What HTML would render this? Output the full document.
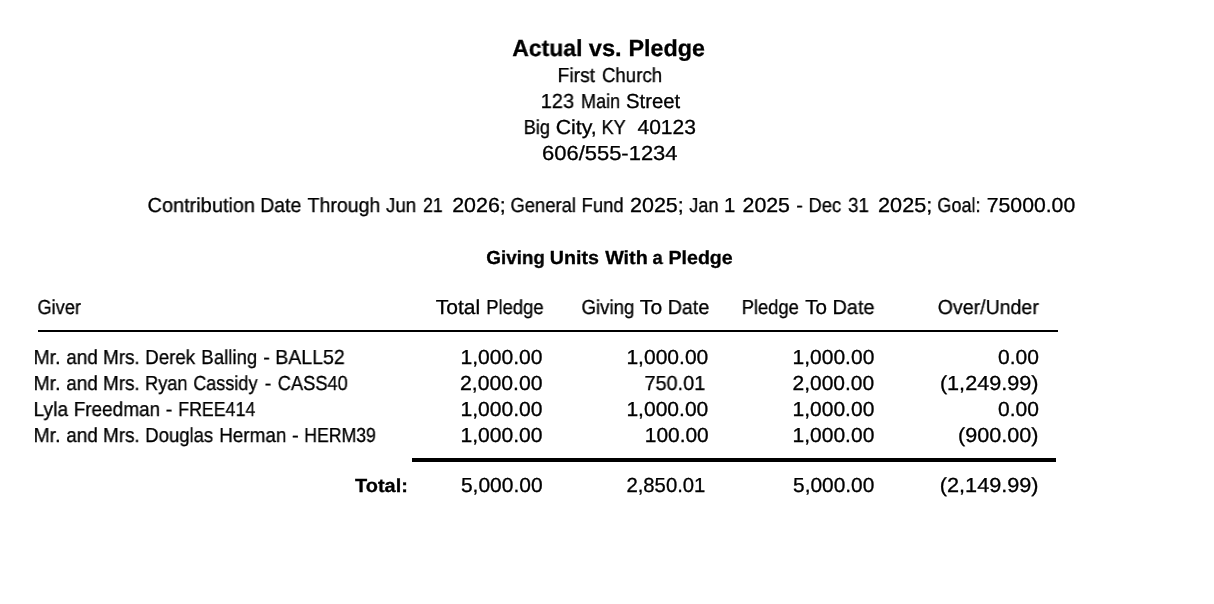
<!DOCTYPE html><html><head><meta charset="utf-8"><title>Actual vs. Pledge</title><style>
html,body{margin:0;padding:0;background:#fff;}
body{width:1214px;height:604px;position:relative;overflow:hidden;font-family:"Liberation Sans",sans-serif;color:#000;}
div{position:absolute;white-space:pre;line-height:1;transform-origin:0 0;text-rendering:geometricPrecision;will-change:transform;-webkit-text-stroke:0.30px #000;}
.rule{background:#000;will-change:auto;-webkit-text-stroke:0;}
</style></head><body>
<div style="left:512px;top:37px;font-weight:bold;font-size:23.3px;text-indent:0.274px;transform:scaleX(0.9860)">Actual</div>
<div style="left:588px;top:37px;font-weight:bold;font-size:23.3px;text-indent:0.725px;transform:scaleX(1.0149)">vs.</div>
<div style="left:628px;top:37px;font-weight:bold;font-size:23.3px;text-indent:0.593px;transform:scaleX(0.9997)">Pledge</div>
<div style="left:557px;top:66px;font-size:20.3px;text-indent:0.510px;transform:scaleX(0.9534)">First</div>
<div style="left:601px;top:66px;font-size:20.3px;text-indent:0.933px;transform:scaleX(0.9214)">Church</div>
<div style="left:540px;top:92px;font-size:20.3px;text-indent:0.852px;transform:scaleX(0.9814)">123</div>
<div style="left:581px;top:92px;font-size:20.3px;text-indent:0.038px;transform:scaleX(0.8882)">Main</div>
<div style="left:625px;top:92px;font-size:20.3px;text-indent:0.982px;transform:scaleX(1.0018)">Street</div>
<div style="left:523px;top:118px;font-size:20.3px;text-indent:0.745px;transform:scaleX(0.8991)">Big</div>
<div style="left:555px;top:118px;font-size:20.3px;text-indent:0.609px;transform:scaleX(1.0532)">City,</div>
<div style="left:601px;top:118px;font-size:20.3px;text-indent:0.537px;transform:scaleX(0.8977)">KY</div>
<div style="left:637px;top:118px;font-size:20.3px;text-indent:0.455px;transform:scaleX(1.0362)">40123</div>
<div style="left:542px;top:144px;font-size:20.3px;text-indent:0.038px;transform:scaleX(1.0821)">606/555-1234</div>
<div style="left:147px;top:196px;font-size:20.3px;text-indent:0.520px;transform:scaleX(0.9837)">Contribution</div>
<div style="left:260px;top:196px;font-size:20.3px;text-indent:0.129px;transform:scaleX(0.9609)">Date</div>
<div style="left:307px;top:196px;font-size:20.3px;text-indent:0.575px;transform:scaleX(0.9638)">Through</div>
<div style="left:386px;top:196px;font-size:20.3px;text-indent:0.116px;transform:scaleX(0.9183)">Jun</div>
<div style="left:423px;top:196px;font-size:20.3px;text-indent:0.105px;transform:scaleX(0.8723)">21</div>
<div style="left:452px;top:196px;font-size:20.3px;text-indent:0.178px;transform:scaleX(1.0568)">2026;</div>
<div style="left:510px;top:196px;font-size:20.3px;text-indent:0.564px;transform:scaleX(0.9061)">General</div>
<div style="left:581px;top:196px;font-size:20.3px;text-indent:0.546px;transform:scaleX(0.9108)">Fund</div>
<div style="left:630px;top:196px;font-size:20.3px;text-indent:0.010px;transform:scaleX(1.0599)">2025;</div>
<div style="left:689px;top:196px;font-size:20.3px;text-indent:0.201px;transform:scaleX(0.9028)">Jan</div>
<div style="left:724px;top:196px;font-size:20.3px;text-indent:0.065px;transform:scaleX(0.9700)">1</div>
<div style="left:742px;top:196px;font-size:20.3px;text-indent:0.499px;transform:scaleX(1.0524)">2025</div>
<div style="left:796px;top:196px;font-size:20.3px;text-indent:0.168px;transform:scaleX(0.9700)">-</div>
<div style="left:808px;top:196px;font-size:20.3px;text-indent:0.614px;transform:scaleX(0.9045)">Dec</div>
<div style="left:847px;top:196px;font-size:20.3px;text-indent:0.902px;transform:scaleX(0.9320)">31</div>
<div style="left:878px;top:196px;font-size:20.3px;text-indent:0.108px;transform:scaleX(1.0656)">2025;</div>
<div style="left:937px;top:196px;font-size:20.3px;text-indent:0.367px;transform:scaleX(0.8897)">Goal:</div>
<div style="left:986px;top:196px;font-size:20.3px;text-indent:0.778px;transform:scaleX(1.0449)">75000.00</div>
<div style="left:486px;top:250px;font-weight:bold;font-size:18.9px;text-indent:0.191px;transform:scaleX(0.9965)">Giving</div>
<div style="left:549px;top:250px;font-weight:bold;font-size:18.9px;text-indent:0.842px;transform:scaleX(1.0399)">Units</div>
<div style="left:605px;top:250px;font-weight:bold;font-size:18.9px;text-indent:0.147px;transform:scaleX(1.0454)">With</div>
<div style="left:652px;top:250px;font-weight:bold;font-size:18.9px;text-indent:0.540px;transform:scaleX(0.9700)">a</div>
<div style="left:668px;top:250px;font-weight:bold;font-size:18.9px;text-indent:0.487px;transform:scaleX(1.0367)">Pledge</div>
<div style="left:37px;top:298px;font-size:20.3px;text-indent:0.459px;transform:scaleX(0.8974)">Giver</div>
<div style="left:435px;top:298px;font-size:20.3px;text-indent:0.788px;transform:scaleX(1.0359)">Total</div>
<div style="left:486px;top:298px;font-size:20.3px;text-indent:0.165px;transform:scaleX(0.9099)">Pledge</div>
<div style="left:581px;top:298px;font-size:20.3px;text-indent:0.459px;transform:scaleX(0.9196)">Giving</div>
<div style="left:639px;top:298px;font-size:20.3px;text-indent:0.841px;transform:scaleX(1.0405)">To</div>
<div style="left:667px;top:298px;font-size:20.3px;text-indent:0.699px;transform:scaleX(0.9719)">Date</div>
<div style="left:741px;top:298px;font-size:20.3px;text-indent:0.638px;transform:scaleX(0.9065)">Pledge</div>
<div style="left:805px;top:298px;font-size:20.3px;text-indent:0.151px;transform:scaleX(1.0157)">To</div>
<div style="left:832px;top:298px;font-size:20.3px;text-indent:0.479px;transform:scaleX(0.9817)">Date</div>
<div style="left:937px;top:298px;font-size:20.3px;text-indent:0.842px;transform:scaleX(0.9636)">Over/Under</div>
<div style="left:33px;top:348px;font-size:20.3px;text-indent:0.416px;transform:scaleX(0.9625)">Mr.</div>
<div style="left:66px;top:348px;font-size:20.3px;text-indent:0.295px;transform:scaleX(0.9361)">and</div>
<div style="left:103px;top:348px;font-size:20.3px;transform:scaleX(0.9296)">Mrs.</div>
<div style="left:145px;top:348px;font-size:20.3px;text-indent:0.335px;transform:scaleX(0.9199)">Derek</div>
<div style="left:201px;top:348px;font-size:20.3px;text-indent:0.361px;transform:scaleX(0.9170)">Balling</div>
<div style="left:263px;top:348px;font-size:20.3px;text-indent:0.210px;transform:scaleX(0.9700)">-</div>
<div style="left:275px;top:348px;font-size:20.3px;text-indent:0.217px;transform:scaleX(0.9644)">BALL52</div>
<div style="left:33px;top:374px;font-size:20.3px;text-indent:0.416px;transform:scaleX(0.9625)">Mr.</div>
<div style="left:66px;top:374px;font-size:20.3px;text-indent:0.295px;transform:scaleX(0.9361)">and</div>
<div style="left:103px;top:374px;font-size:20.3px;transform:scaleX(0.9296)">Mrs.</div>
<div style="left:145px;top:374px;font-size:20.3px;text-indent:0.015px;transform:scaleX(0.8984)">Ryan</div>
<div style="left:193px;top:374px;font-size:20.3px;text-indent:0.162px;transform:scaleX(0.8921)">Cassidy</div>
<div style="left:264px;top:374px;font-size:20.3px;text-indent:0.754px;transform:scaleX(0.9700)">-</div>
<div style="left:277px;top:374px;font-size:20.3px;text-indent:0.769px;transform:scaleX(0.9013)">CASS40</div>
<div style="left:33px;top:400px;font-size:20.3px;text-indent:0.469px;transform:scaleX(0.9496)">Lyla</div>
<div style="left:73px;top:400px;font-size:20.3px;text-indent:0.677px;transform:scaleX(0.9361)">Freedman</div>
<div style="left:165px;top:400px;font-size:20.3px;text-indent:0.848px;transform:scaleX(0.9700)">-</div>
<div style="left:178px;top:400px;font-size:20.3px;text-indent:0.268px;transform:scaleX(0.8761)">FREE414</div>
<div style="left:33px;top:426px;font-size:20.3px;text-indent:0.416px;transform:scaleX(0.9625)">Mr.</div>
<div style="left:66px;top:426px;font-size:20.3px;text-indent:0.295px;transform:scaleX(0.9361)">and</div>
<div style="left:103px;top:426px;font-size:20.3px;transform:scaleX(0.9296)">Mrs.</div>
<div style="left:145px;top:426px;font-size:20.3px;text-indent:0.349px;transform:scaleX(0.9128)">Douglas</div>
<div style="left:219px;top:426px;font-size:20.3px;text-indent:0.203px;transform:scaleX(0.9323)">Herman</div>
<div style="left:291px;top:426px;font-size:20.3px;text-indent:1.005px;transform:scaleX(0.9700)">-</div>
<div style="left:304px;top:426px;font-size:20.3px;text-indent:0.353px;transform:scaleX(0.8698)">HERM39</div>
<div style="left:355px;top:478px;font-weight:bold;font-size:18.9px;text-indent:0.067px;transform:scaleX(1.0555)">Total:</div>
<div style="left:460px;top:348px;font-size:20.3px;text-indent:0.472px;transform:scaleX(1.0398)">1,000.00</div>
<div style="left:626px;top:348px;font-size:20.3px;text-indent:0.409px;transform:scaleX(1.0368)">1,000.00</div>
<div style="left:792px;top:348px;font-size:20.3px;text-indent:0.559px;transform:scaleX(1.0355)">1,000.00</div>
<div style="left:998px;top:348px;font-size:20.3px;text-indent:0.031px;transform:scaleX(1.0361)">0.00</div>
<div style="left:459px;top:374px;font-size:20.3px;text-indent:0.913px;transform:scaleX(1.0459)">2,000.00</div>
<div style="left:644px;top:374px;font-size:20.3px;text-indent:0.492px;transform:scaleX(0.9793)">750.01</div>
<div style="left:792px;top:374px;font-size:20.3px;text-indent:0.485px;transform:scaleX(1.0347)">2,000.00</div>
<div style="left:939px;top:374px;font-size:20.3px;text-indent:0.855px;transform:scaleX(1.0659)">(1,249.99)</div>
<div style="left:460px;top:400px;font-size:20.3px;text-indent:0.472px;transform:scaleX(1.0398)">1,000.00</div>
<div style="left:626px;top:400px;font-size:20.3px;text-indent:0.409px;transform:scaleX(1.0368)">1,000.00</div>
<div style="left:792px;top:400px;font-size:20.3px;text-indent:0.559px;transform:scaleX(1.0355)">1,000.00</div>
<div style="left:998px;top:400px;font-size:20.3px;text-indent:0.031px;transform:scaleX(1.0361)">0.00</div>
<div style="left:460px;top:426px;font-size:20.3px;text-indent:0.472px;transform:scaleX(1.0398)">1,000.00</div>
<div style="left:644px;top:426px;font-size:20.3px;text-indent:0.738px;transform:scaleX(1.0315)">100.00</div>
<div style="left:792px;top:426px;font-size:20.3px;text-indent:0.559px;transform:scaleX(1.0355)">1,000.00</div>
<div style="left:958px;top:426px;font-size:20.3px;text-indent:0.118px;transform:scaleX(1.0623)">(900.00)</div>
<div style="left:460px;top:476px;font-size:20.3px;text-indent:0.897px;transform:scaleX(1.0341)">5,000.00</div>
<div style="left:626px;top:476px;font-size:20.3px;text-indent:0.420px;transform:scaleX(0.9945)">2,850.01</div>
<div style="left:793px;top:476px;font-size:20.3px;text-indent:0.061px;transform:scaleX(1.0297)">5,000.00</div>
<div style="left:939px;top:476px;font-size:20.3px;text-indent:0.805px;transform:scaleX(1.0670)">(2,149.99)</div>
<div class="rule" style="left:38px;top:330px;width:1020px;height:2px"></div>
<div class="rule" style="left:412px;top:458px;width:644px;height:4px"></div>
</body></html>
